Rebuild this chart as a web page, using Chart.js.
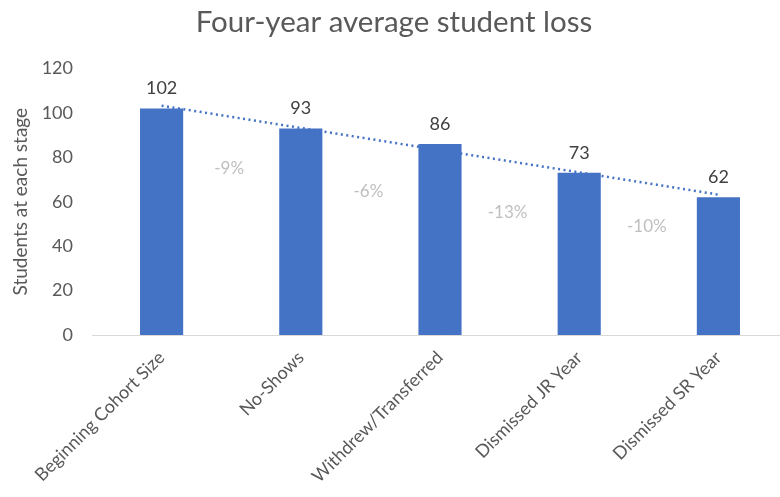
<!DOCTYPE html>
<html>
<head>
<meta charset="utf-8">
<script src="https://cdn.jsdelivr.net/npm/chart.js@4"></script>
<style>
  html, body { margin: 0; padding: 0; background: #fff; overflow: hidden; }
  #wrap { width: 790px; height: 497px; }
</style>
</head>
<body>
<div id="wrap"><canvas id="chart"></canvas></div>
<script>
// stages and students remaining at each stage
const stages = ['Beginning Cohort Size', 'No-Shows', 'Withdrew/Transferred', 'Dismissed JR Year', 'Dismissed SR Year'];
const students = [102, 93, 86, 73, 62];
// dotted trend line at each stage
const trend = [103.2, 93.2, 83.2, 73.2, 63.2];
// loss between stages and where the label sits (y value)
const changeLabels = ['-9%', '-6%', '-13%', '-10%'];
const changeY = [75, 64.5, 55, 49];
const yTicks = [0, 20, 40, 60, 80, 100, 120];

const FONT = 'Lato, "Open Sans", sans-serif';

// values above bars + percentage labels between bars
const labelPlugin = {
    id: 'labels',
    afterDatasetsDraw(chart) {
        const ctx = chart.ctx;
        const x = chart.scales.x, y = chart.scales.y;
        ctx.save();
        ctx.textAlign = 'center';
        ctx.textBaseline = 'middle';
        ctx.font = '18px ' + FONT;
        ctx.fillStyle = '#404040';
        chart.getDatasetMeta(1).data.forEach((bar, i) => {
            ctx.fillText(students[i], bar.x, bar.y - 20);
        });
        ctx.font = '17px ' + FONT;
        ctx.fillStyle = '#BFBFBF';
        changeLabels.forEach((t, i) => {
            const px = (x.getPixelForValue(i) + x.getPixelForValue(i + 1)) / 2;
            ctx.fillText(t, px - 2, y.getPixelForValue(changeY[i]));
        });
        ctx.restore();
    }
};

new Chart(document.getElementById('chart'), {
    data: {
        labels: stages,
        datasets: [{
            type: 'line',
            data: trend,
            borderColor: '#4472C4',
            borderWidth: 2.5,
            borderDash: [2, 3.5],
            pointRadius: 0,
            fill: false
        }, {
            type: 'bar',
            data: students,
            backgroundColor: '#4472C4',
            categoryPercentage: 1,
            barPercentage: 0.31
        }]
    },
    options: {
        responsive: true,
        maintainAspectRatio: false,
        animation: false,
        layout: { padding: { left: 0, right: 2, top: 0, bottom: 0 } },
        plugins: {
            legend: { display: false },
            tooltip: { enabled: false },
            title: {
                display: true,
                text: 'Four-year average student loss',
                color: '#595959',
                font: { family: FONT, size: 29.5, weight: 'normal' },
                padding: { top: 5, bottom: 28 }
            }
        },
        scales: {
            x: {
                grid: { display: false, drawTicks: false },
                border: { color: '#D9D9D9', width: 1 },
                ticks: {
                    color: '#595959',
                    font: { family: FONT, size: 18 },
                    maxRotation: 45,
                    minRotation: 45,
                    padding: 12
                },
                afterFit: s => { s.height = 162; }
            },
            y: {
                min: 0,
                max: 120,
                afterBuildTicks: s => { s.ticks = yTicks.map(v => ({ value: v })); },
                grid: { display: false, drawTicks: false },
                border: { display: false },
                ticks: {
                    color: '#595959',
                    font: { family: FONT, size: 18 },
                    padding: 19
                },
                title: {
                    display: true,
                    text: 'Students at each stage',
                    color: '#595959',
                    font: { family: FONT, size: 19 },
                    padding: { top: 9, bottom: 0 }
                },
                afterFit: s => { s.width = 92; }
            }
        }
    },
    plugins: [labelPlugin]
});
</script>
</body>
</html>
